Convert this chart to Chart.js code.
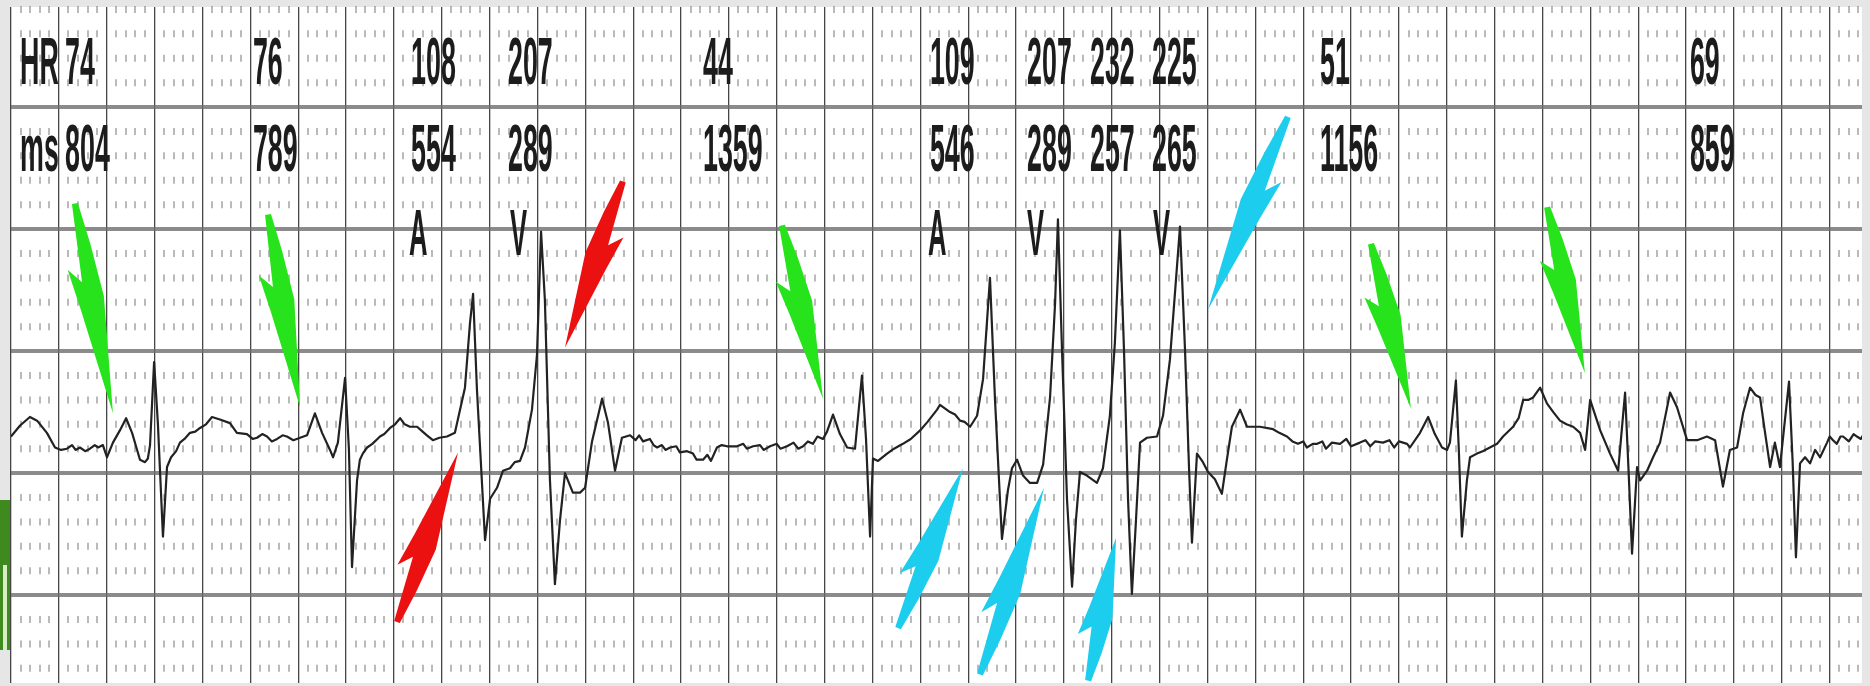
<!DOCTYPE html>
<html>
<head>
<meta charset="utf-8">
<title>ECG strip</title>
<script src="https://cdn.jsdelivr.net/npm/chart.js@4.4.1/dist/chart.umd.min.js"></script>
<style>
  html, body { margin: 0; padding: 0; background: #e4e4e4; overflow: hidden; }
  canvas { display: block; }
</style>
</head>
<body>
<canvas id="ecg" width="1870" height="686"></canvas>
<script>
// ECG trace: time in ms, amplitude in mV (one thick paper line per 1 mV)
var traceMs = [
  0, 38, 79, 109, 150, 184, 209, 234, 255, 270, 288, 310, 330, 350, 364, 384, 401, 426, 455, 481,
  506, 527, 539, 560, 572, 581, 598, 614, 635, 652, 669, 690, 706, 725, 748, 770, 790, 815, 840, 873,
  915, 944, 986, 1010, 1028, 1050, 1070, 1090, 1112, 1135, 1153, 1180, 1208, 1237, 1270, 1300, 1333, 1346, 1366, 1396,
  1412, 1425, 1446, 1458, 1470, 1488, 1510, 1542, 1560, 1584, 1605, 1626, 1645, 1667, 1697, 1720, 1738, 1763, 1790, 1822,
  1855, 1897, 1918, 1931, 1947, 1981, 2002, 2031, 2056, 2085, 2105, 2127, 2148, 2177, 2198, 2215, 2231, 2252, 2273, 2294,
  2315, 2348, 2378, 2399, 2428, 2470, 2495, 2524, 2553, 2587, 2610, 2625, 2641, 2670, 2685, 2700, 2720, 2735, 2754, 2780,
  2795, 2825, 2850, 2865, 2892, 2910, 2925, 2950, 2970, 2992, 3034, 3060, 3075, 3101, 3130, 3145, 3172, 3200, 3215, 3243,
  3270, 3290, 3310, 3330, 3351, 3370, 3393, 3410, 3435, 3464, 3494, 3527, 3556, 3573, 3590, 3602, 3623, 3661, 3690, 3727,
  3760, 3799, 3830, 3870, 3882, 3924, 3945, 3966, 3985, 4008, 4037, 4062, 4091, 4112, 4141, 4166, 4183, 4204, 4229, 4258,
  4288, 4313, 4342, 4363, 4375, 4392, 4413, 4434, 4450, 4467, 4496, 4538, 4563, 4592, 4613, 4634, 4651, 4668, 4684, 4701,
  4718, 4747, 4789, 4814, 4843, 4885, 4906, 4923, 4935, 4956, 4981, 5002, 5031, 5060, 5081, 5102, 5136, 5165, 5219, 5274,
  5300, 5332, 5355, 5378, 5400, 5415, 5440, 5458, 5480, 5495, 5520, 5554, 5580, 5600, 5637, 5660, 5680, 5700, 5733, 5760,
  5780, 5800, 5834, 5846, 5888, 5922, 5950, 5980, 6001, 6013, 6038, 6050, 6063, 6084, 6097, 6126, 6150, 6180, 6210, 6235,
  6277, 6300, 6319, 6340, 6361, 6375, 6390, 6419, 6445, 6473, 6500, 6528, 6557, 6578, 6599, 6641, 6682, 6716, 6745, 6760,
  6774, 6795, 6808, 6837, 6862, 6891, 6933, 6962, 7004, 7046, 7087, 7121, 7154, 7183, 7213, 7238, 7267, 7290, 7309, 7330,
  7351, 7371, 7392, 7430, 7445, 7459, 7476, 7497, 7518, 7539, 7560, 7589, 7600, 7614, 7630, 7645, 7656, 7680, 7700, 7714,
  7730, 7760
];
var traceMv = [
  -0.70, -0.61, -0.54, -0.57, -0.67, -0.79, -0.81, -0.80, -0.77, -0.81, -0.79, -0.82, -0.80, -0.77, -0.79, -0.77, -0.87, -0.75, -0.65, -0.55,
  -0.67, -0.81, -0.89, -0.91, -0.88, -0.77, -0.09, -0.60, -1.52, -0.95, -0.87, -0.82, -0.75, -0.72, -0.67, -0.66, -0.63, -0.60, -0.54, -0.56,
  -0.59, -0.67, -0.68, -0.72, -0.71, -0.68, -0.70, -0.74, -0.72, -0.69, -0.70, -0.73, -0.71, -0.69, -0.51, -0.67, -0.81, -0.87, -0.75, -0.22,
  -0.80, -1.77, -1.06, -0.89, -0.84, -0.79, -0.76, -0.70, -0.68, -0.63, -0.60, -0.55, -0.60, -0.62, -0.62, -0.66, -0.69, -0.73, -0.71, -0.70,
  -0.67, -0.30, 0.23, 0.47, -0.31, -1.55, -1.21, -1.12, -0.98, -0.96, -0.91, -0.90, -0.79, -0.48, -0.03, 0.98, 0.42, -1.05, -1.91, -1.39,
  -1.00, -1.16, -1.16, -1.12, -0.74, -0.39, -0.59, -0.98, -0.71, -0.69, -0.73, -0.69, -0.74, -0.72, -0.77, -0.79, -0.77, -0.81, -0.79, -0.78,
  -0.83, -0.82, -0.84, -0.89, -0.89, -0.85, -0.90, -0.79, -0.77, -0.78, -0.78, -0.76, -0.80, -0.78, -0.77, -0.81, -0.78, -0.76, -0.80, -0.78,
  -0.75, -0.80, -0.78, -0.74, -0.76, -0.70, -0.72, -0.66, -0.52, -0.68, -0.79, -0.80, -0.20, -0.72, -1.52, -0.88, -0.90, -0.84, -0.80, -0.76,
  -0.72, -0.65, -0.58, -0.48, -0.44, -0.50, -0.52, -0.57, -0.58, -0.62, -0.53, -0.23, 0.60, -0.40, -1.54, -1.14, -0.96, -0.89, -1.02, -1.08,
  -1.08, -0.93, -0.38, 0.39, 1.08, 0.01, -1.22, -1.93, -1.39, -0.99, -1.02, -1.08, -0.96, -0.53, 0.07, 0.99, 0.01, -1.22, -1.99, -1.39,
  -0.75, -0.71, -0.70, -0.53, -0.07, 1.02, 0.01, -0.97, -1.57, -0.84, -0.91, -0.99, -1.05, -1.17, -0.89, -0.62, -0.48, -0.62, -0.62, -0.64,
  -0.67, -0.70, -0.74, -0.76, -0.74, -0.79, -0.76, -0.76, -0.74, -0.80, -0.75, -0.76, -0.72, -0.78, -0.75, -0.73, -0.78, -0.74, -0.75, -0.73,
  -0.79, -0.74, -0.76, -0.79, -0.67, -0.54, -0.68, -0.79, -0.81, -0.75, -0.24, -0.80, -1.52, -1.06, -0.87, -0.84, -0.82, -0.79, -0.76, -0.70,
  -0.62, -0.55, -0.40, -0.40, -0.38, -0.34, -0.30, -0.43, -0.50, -0.57, -0.60, -0.62, -0.67, -0.81, -0.40, -0.65, -0.84, -0.98, -0.34, -1.00,
  -1.66, -0.95, -1.06, -0.98, -0.87, -0.75, -0.34, -0.46, -0.73, -0.73, -0.70, -0.73, -1.11, -0.81, -0.79, -0.51, -0.30, -0.36, -0.38, -0.67,
  -0.95, -0.75, -0.95, -0.25, -0.90, -1.69, -0.92, -0.87, -0.92, -0.81, -0.87, -0.75, -0.70, -0.73, -0.76, -0.70, -0.70, -0.74, -0.68, -0.70,
  -0.72, -0.62
];

// Printed annotations (left edge of each column, ms)
var labelMs = [226, 1011, 1672, 2077, 2892, 3840, 4246, 4509, 4768, 5470, 7016];
var hrValues = ["74", "76", "108", "207", "44", "109", "207", "232", "225", "51", "69"];
var rrValues = ["804", "789", "554", "289", "1359", "546", "289", "257", "265", "1156", "859"];
var beatMarkMs = [1663, 2085, 3832, 4246, 4772];
var beatMarks = ["A", "V", "A", "V", "V"];

// Arrows drawn on the strip: [ms, mV] of tail and tip
var greenArrowTail = [[267, 1.21], [1074, 1.12], [3222, 1.03], [5683, 0.88], [6419, 1.18]];
var greenArrowTip = [[426, -0.51], [1208, -0.46], [3393, -0.39], [5850, -0.47], [6577, -0.18]];
var redArrowTail = [[1613, -2.22], [2557, 1.39]];
var redArrowTip = [[1868, -0.83], [2315, 0.03]];
var cyanArrowTail = [[5336, 1.92], [3707, -2.27], [4049, -2.65], [4501, -2.70]];
var cyanArrowTip = [[5002, 0.34], [3978, -0.96], [4317, -1.12], [4618, -1.53]];

var MAJOR_MS = 200;
var MINOR_MS = 40;

// paper: frame, white background and the dotted small boxes
var paperPlugin = {
  id: "paper",
  beforeDraw: function (chart) {
    var ctx = chart.ctx;
    var area = chart.chartArea;
    var xs = chart.scales.x;
    var ys = chart.scales.y;
    ctx.save();
    ctx.fillStyle = "#e6e6e6";
    ctx.fillRect(0, 0, chart.width, chart.height);
    // green bit of the slide behind the picture
    ctx.fillStyle = "#3f8a1f";
    ctx.fillRect(0, 500, 10, 150);
    ctx.fillStyle = "#d8ecc8";
    ctx.fillRect(3, 565, 4, 85);
    ctx.fillStyle = "#ffffff";
    ctx.fillRect(area.left, area.top, area.right - area.left, area.bottom - area.top);

    // small dots in every minor box corner
    ctx.strokeStyle = "rgba(110,110,110,0.48)";
    ctx.lineWidth = 2;
    ctx.beginPath();
    for (var t = 0; t <= xs.max; t += MINOR_MS) {
      if (t % MAJOR_MS === 0) continue;
      var px = Math.round(xs.getPixelForValue(t));
      for (var k = -14; k <= 14; k++) {
        if (k % 5 === 0) continue;
        var py = ys.getPixelForValue(k / 5);
        if (py < area.top || py > area.bottom) continue;
        ctx.moveTo(px, py - 3.5);
        ctx.lineTo(px, py + 3.5);
      }
    }
    ctx.stroke();
    ctx.restore();
  }
};

// barbed arrow, side = which flank carries the barb
function drawArrow(ctx, x0, y0, x1, y1, color, side) {
  var dx = x1 - x0, dy = y1 - y0;
  var len = Math.sqrt(dx * dx + dy * dy);
  var ux = dx / len, uy = dy / len;
  var nx = -uy * side, ny = ux * side;
  function p(a, w) {
    return [x0 + ux * a + nx * w, y0 + uy * a + ny * w];
  }
  var pts = [
    p(len, 0), p(len * 0.5, 13), p(len * 0.3, 19), p(len * 0.37, 7), p(0, 3),
    p(0, -3), p(len * 0.2, -8), p(len * 0.45, -12)
  ];
  ctx.fillStyle = color;
  ctx.beginPath();
  ctx.moveTo(pts[0][0], pts[0][1]);
  for (var i = 1; i < pts.length; i++) ctx.lineTo(pts[i][0], pts[i][1]);
  ctx.closePath();
  ctx.fill();
}

// texts and arrows on top of the trace
var notesPlugin = {
  id: "notes",
  afterDraw: function (chart) {
    var ctx = chart.ctx;
    var xs = chart.scales.x;
    var ys = chart.scales.y;

    function narrowText(text, ms, mv, size) {
      ctx.save();
      ctx.font = "bold " + size + 'px "Liberation Sans", Arial, sans-serif';
      ctx.translate(xs.getPixelForValue(ms), ys.getPixelForValue(mv));
      ctx.scale(0.4, 1);
      ctx.fillText(text, 0, 0);
      ctx.restore();
    }

    ctx.save();
    ctx.fillStyle = "#1c1c1c";
    ctx.textBaseline = "alphabetic";
    narrowText("HR", 38, 2.19, 67);
    narrowText("ms", 38, 1.48, 67);
    for (var i = 0; i < labelMs.length; i++) {
      narrowText(hrValues[i], labelMs[i], 2.19, 67);
      narrowText(rrValues[i], labelMs[i], 1.48, 67);
    }
    for (var j = 0; j < beatMarks.length; j++) {
      narrowText(beatMarks[j], beatMarkMs[j], 0.79, 64);
    }

    function arrows(tails, tips, color, side) {
      for (var k = 0; k < tails.length; k++) {
        drawArrow(ctx,
          xs.getPixelForValue(tails[k][0]), ys.getPixelForValue(tails[k][1]),
          xs.getPixelForValue(tips[k][0]), ys.getPixelForValue(tips[k][1]),
          color, side);
      }
    }
    arrows(greenArrowTail, greenArrowTip, "#27e31c", 1);
    arrows(redArrowTail, redArrowTip, "#ec1111", -1);
    arrows(cyanArrowTail, cyanArrowTip, "#1ccdee", -1);
    ctx.restore();
  }
};

var points = [];
for (var i = 0; i < traceMs.length; i++) {
  points.push({ x: traceMs[i], y: traceMv[i] });
}

var ctx = document.getElementById("ecg").getContext("2d");
var myChart = new Chart(ctx, {
  type: "line",
  data: {
    datasets: [
      {
        data: points,
        borderColor: "#222222",
        borderWidth: 2.2,
        pointRadius: 0,
        tension: 0,
        borderJoinStyle: "round"
      }
    ]
  },
  options: {
    responsive: false,
    devicePixelRatio: 1,
    animation: false,
    events: [],
    layout: { padding: { left: 11, right: 8, top: 7, bottom: 3 } },
    plugins: { legend: { display: false }, tooltip: { enabled: false } },
    scales: {
      x: {
        type: "linear",
        min: 0,
        max: 7735,
        border: { display: false },
        ticks: { display: false },
        grid: { drawTicks: false, color: "#454545", lineWidth: 1.3 },
        afterBuildTicks: function (scale) {
          var list = [];
          for (var t = 0; t <= scale.max; t += MAJOR_MS) list.push({ value: t });
          scale.ticks = list;
        }
      },
      y: {
        type: "linear",
        min: -2.72,
        max: 2.82,
        border: { display: false },
        ticks: { display: false },
        grid: { drawTicks: false, color: "rgba(110,110,110,0.8)", lineWidth: 4 },
        afterBuildTicks: function (scale) {
          scale.ticks = [-2, -1, 0, 1, 2].map(function (v) { return { value: v }; });
        }
      }
    }
  },
  plugins: [paperPlugin, notesPlugin]
});
</script>
</body>
</html>
